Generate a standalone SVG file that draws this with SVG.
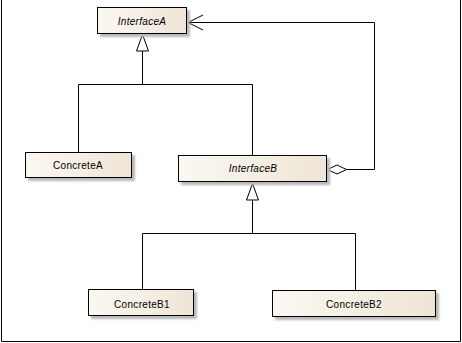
<svg xmlns="http://www.w3.org/2000/svg" width="462" height="343" viewBox="0 0 462 343">
<defs>
<linearGradient id="fill" x1="0" y1="0" x2="1" y2="0">
<stop offset="0" stop-color="#fbf8f2"/>
<stop offset="1" stop-color="#efe5d6"/>
</linearGradient>
<filter id="sh" x="-10%" y="-20%" width="130%" height="160%">
<feGaussianBlur stdDeviation="1"/>
</filter>
</defs>
<style>
.box{fill:url(#fill);stroke:#000;stroke-width:1}
.shadow{fill:#b8b8b8;filter:url(#sh)}
.lbl{font-family:"Liberation Sans",Arial,sans-serif;font-size:10px;letter-spacing:0.3px;text-anchor:middle;fill:#000}
.it{font-style:italic}
.ln{fill:none;stroke:#000;stroke-width:1}
.tri{fill:#fff;stroke:#000;stroke-width:1}
</style>
<rect x="0" y="0" width="462" height="343" fill="#fff"/>
<path class="ln" d="M1.5,0 V341.5 H460.5 V0"/>
<g id="connectors">
<path class="ln" d="M78.5,152 V84.5 H252.5 V155"/>
<path class="ln" d="M142.5,84.5 V51"/>
<polygon class="tri" points="142.5,34.5 136.5,51 148.5,51"/>
<path class="ln" d="M142.5,289 V233.5 H355.5 V290"/>
<path class="ln" d="M252.5,233.5 V200"/>
<polygon class="tri" points="252.5,183.5 246.5,200 258.5,200"/>
<path class="ln" d="M346,169.5 H374.5 V22.5 H188"/>
<path class="ln" d="M203,15 L188,22.5 L203,30"/>
<polygon class="tri" points="327.5,169.5 337,165 346.5,169.5 337,174"/>
</g>
<g id="InterfaceA">
<rect class="shadow" x="100" y="10" width="90" height="27"/>
<rect class="box" x="97.5" y="7.5" width="89" height="26"/>
<text class="lbl it" x="142" y="25">InterfaceA</text>
</g>
<g id="ConcreteA">
<rect class="shadow" x="28" y="155" width="107" height="26"/>
<rect class="box" x="25.5" y="152.5" width="106" height="25"/>
<text class="lbl" x="78" y="169">ConcreteA</text>
</g>
<g id="InterfaceB">
<rect class="shadow" x="181" y="158" width="149" height="27"/>
<rect class="box" x="178.5" y="155.5" width="148" height="26"/>
<text class="lbl it" x="253" y="172">InterfaceB</text>
</g>
<g id="ConcreteB1">
<rect class="shadow" x="91" y="292" width="106" height="27"/>
<rect class="box" x="88.5" y="289.5" width="105" height="26"/>
<text class="lbl" x="142" y="308">ConcreteB1</text>
</g>
<g id="ConcreteB2">
<rect class="shadow" x="275" y="293" width="164" height="27"/>
<rect class="box" x="272.5" y="290.5" width="163" height="26"/>
<text class="lbl" x="354" y="308">ConcreteB2</text>
</g>
</svg>
